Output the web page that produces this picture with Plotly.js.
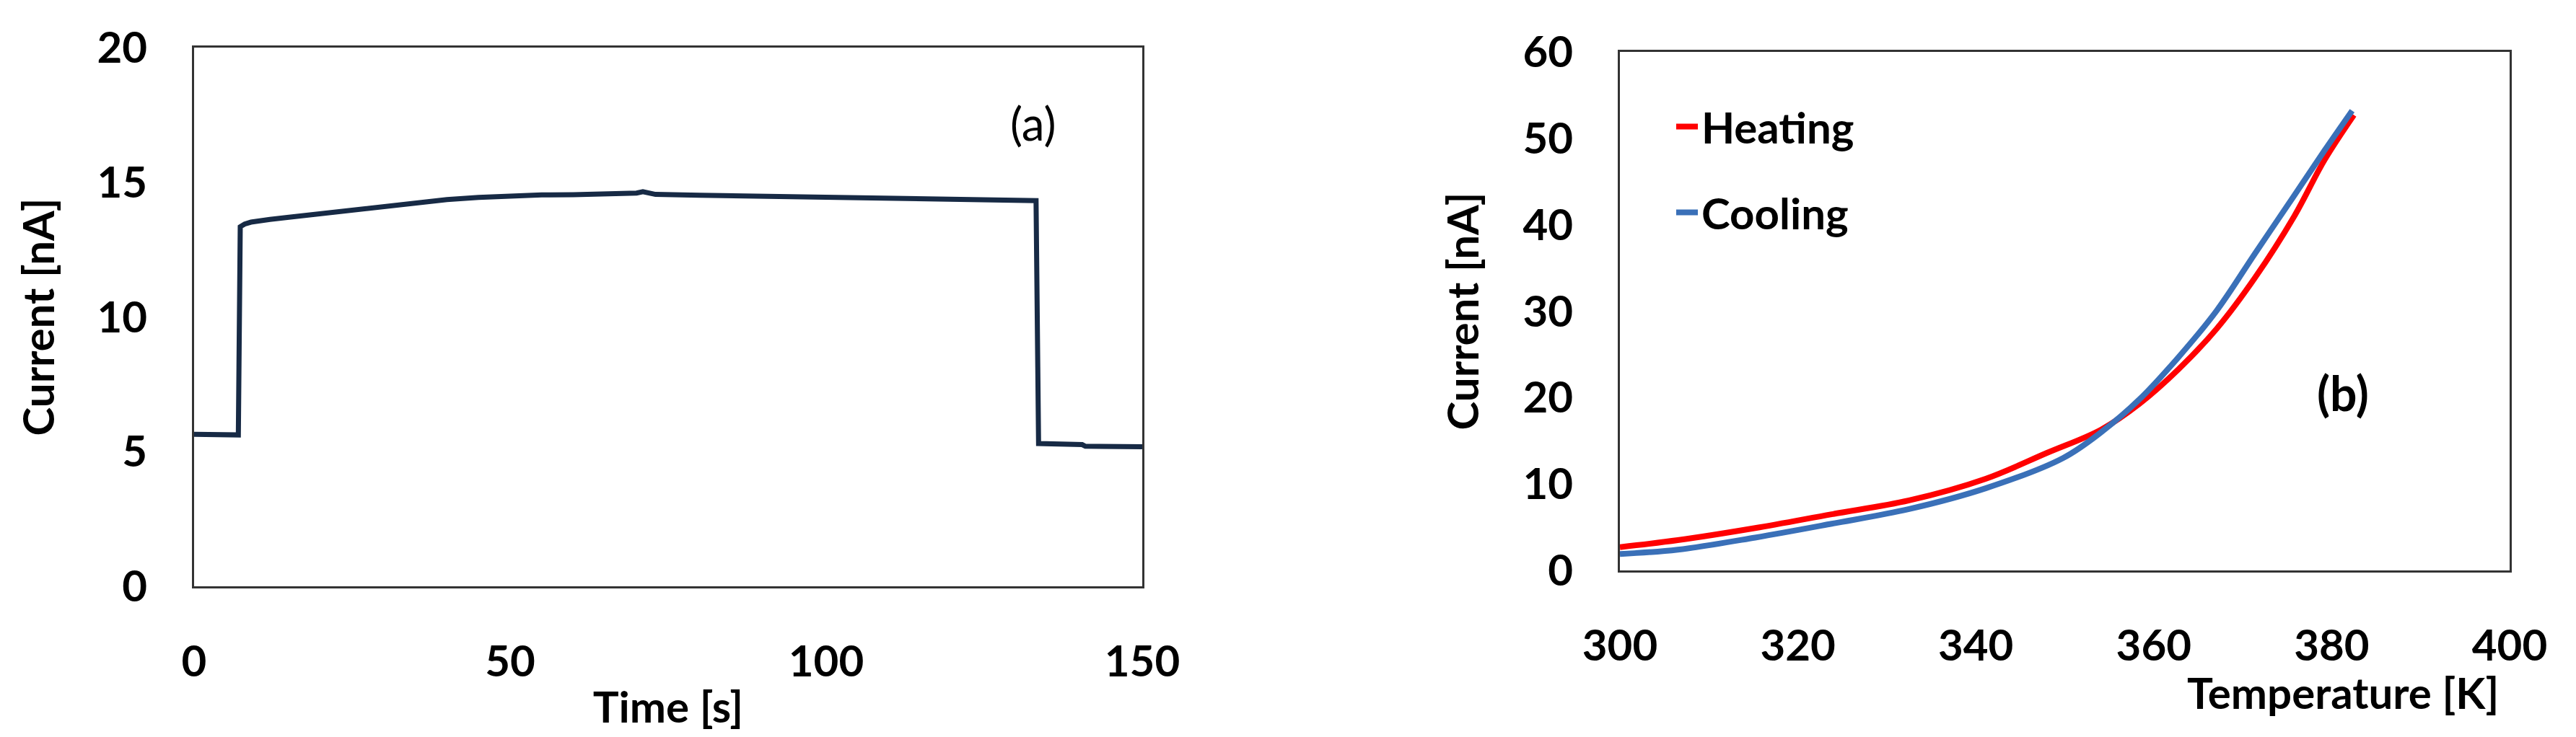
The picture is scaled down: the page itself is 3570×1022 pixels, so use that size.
<!DOCTYPE html>
<html>
<head>
<meta charset="utf-8">
<script src="https://cdn.plot.ly/plotly-3.0.1.min.js"></script>
<style>
  html, body { margin: 0; padding: 0; background: #fff; }
  #chart { width: 3570px; height: 1022px; }
</style>
</head>
<body>
<div id="chart"></div>
<script>
// (a) current vs time
var timeS = [0, 3, 7.0, 7.3, 8, 9, 10, 12, 15, 18, 20, 25, 30, 35, 40, 45, 50, 55, 60, 65, 70, 71, 73, 80, 85, 90, 95, 100, 105, 110, 115, 120, 125, 130, 133.2, 133.6, 137, 140.5, 141, 145, 150];
var currentA = [5.64, 5.63, 5.62, 13.35, 13.45, 13.52, 13.56, 13.62, 13.7, 13.78, 13.85, 14.0, 14.14, 14.26, 14.36, 14.44, 14.5, 14.53, 14.54, 14.55, 14.6, 14.65, 14.55, 14.52, 14.5, 14.5, 14.47, 14.46, 14.45, 14.43, 14.4, 14.38, 14.35, 14.33, 14.32, 5.3, 5.27, 5.26, 5.2, 5.19, 5.18];

// (b) current vs temperature
var heatT = [300, 306.5, 315.2, 323.8, 332.5, 341.1, 348.0, 354.1, 358.4, 362.8, 367.1, 371.4, 375.8, 379.2, 382.5];
var heatI = [2.7, 3.5, 4.9, 6.5, 8.1, 10.6, 13.6, 16.3, 19.3, 23.3, 28.0, 33.9, 41.0, 47.5, 52.7];
var coolT = [300, 306.5, 315.2, 323.8, 332.5, 341.1, 349.8, 354.1, 358.4, 362.8, 367.1, 371.4, 375.8, 379.2, 382.3];
var coolI = [1.9, 2.4, 3.8, 5.4, 7.1, 9.5, 13.0, 16.0, 19.8, 24.7, 30.1, 36.7, 43.4, 48.6, 53.2];

var W = 3570, H = 1022;
var FONT = 'Lato, "Open Sans", sans-serif';
var tickFont = { family: FONT, size: 60, color: '#000', weight: 'bold' };
var titleFont = { family: FONT, size: 60, color: '#000', weight: 'bold' };

function axis(dom, range, dtick, anchor) {
    return {
        domain: dom,
        range: range,
        dtick: dtick,
        tick0: range[0],
        anchor: anchor,
        showgrid: false,
        zeroline: false,
        showline: true,
        mirror: true,
        linecolor: '#333',
        linewidth: 3,
        ticks: '',
        ticklabelstandoff: 50,
        tickfont: tickFont,
        fixedrange: true
    };
}

var data = [
    {
        x: timeS, y: currentA,
        xaxis: 'x', yaxis: 'y',
        mode: 'lines',
        line: { color: '#172a45', width: 7 },
        showlegend: false
    },
    {
        x: heatT, y: heatI,
        xaxis: 'x2', yaxis: 'y2',
        mode: 'lines',
        name: 'Heating',
        legendgroup: 'h',
        line: { color: '#ff0000', width: 8, shape: 'spline' }
    },
    {
        x: coolT, y: coolI,
        xaxis: 'x2', yaxis: 'y2',
        mode: 'lines',
        name: 'Cooling',
        legendgroup: 'c',
        line: { color: '#3a70b8', width: 8, shape: 'spline' }
    }
];

var xa = axis([269 / W, 1583 / W], [0, 150], 50, 'y');
xa.title = { text: 'Time [s]', font: titleFont, standoff: 10 };
var ya = axis([1 - 813 / H, 1 - 66 / H], [0, 20], 5, 'x');
ya.title = { text: 'Current [nA]', font: titleFont, standoff: 40 };
var xb = axis([2245 / W, 3478 / W], [300, 400], 20, 'y2');
var yb = axis([1 - 791 / H, 1 - 72 / H], [0, 60], 10, 'x2');
yb.title = { text: 'Current [nA]', font: titleFont, standoff: 42 };

var layout = {
    width: W,
    height: H,
    margin: { l: 0, r: 0, t: 0, b: 0, pad: 0 },
    paper_bgcolor: '#fff',
    plot_bgcolor: '#fff',
    font: { family: FONT, color: '#000' },
    xaxis: xa,
    yaxis: ya,
    xaxis2: xb,
    yaxis2: yb,
    showlegend: true,
    legend: {
        x: 2318 / W,
        y: 1 - 130 / H,
        xanchor: 'left',
        yanchor: 'top',
        bgcolor: 'rgba(0,0,0,0)',
        font: { family: FONT, size: 60, color: '#000', weight: 'bold' },
        traceorder: 'grouped',
        tracegroupgap: 38
    },
    annotations: [
        {
            xref: 'x', yref: 'y', x: 132.8, y: 17.2,
            text: '(a)', showarrow: false,
            font: { family: FONT, size: 64, color: '#000' }
        },
        {
            xref: 'x2', yref: 'y2', x: 381.3, y: 20.6,
            text: '(b)', showarrow: false,
            font: { family: FONT, size: 66, color: '#000', weight: 'bold' }
        },
        {
            xref: 'paper', yref: 'paper', x: 3465 / W, y: 1 - 960 / H,
            xanchor: 'right', yanchor: 'middle',
            text: 'Temperature [K]', showarrow: false,
            font: titleFont
        }
    ]
};

Plotly.newPlot('chart', data, layout, { displayModeBar: false, staticPlot: true });
</script>
</body>
</html>
